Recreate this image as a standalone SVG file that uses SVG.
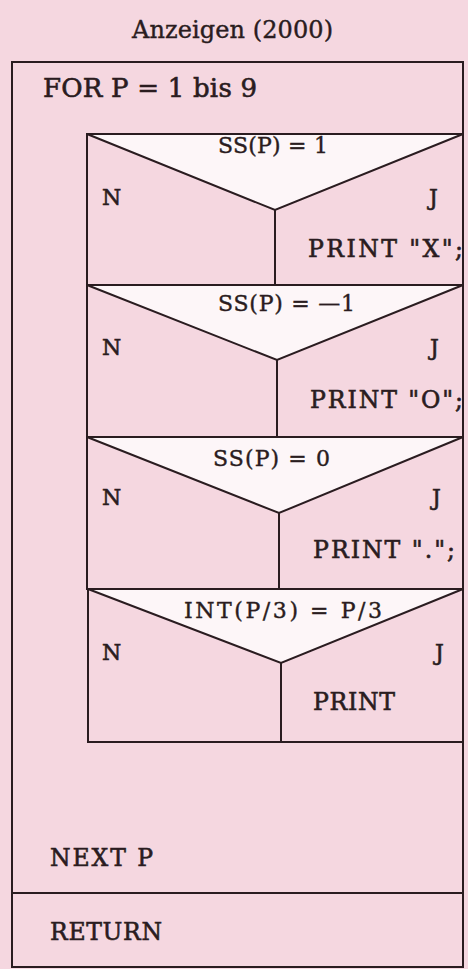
<svg xmlns="http://www.w3.org/2000/svg" width="468" height="969" viewBox="0 0 468 969">
<style>
.bg{fill:#f5d7e0}
.box{fill:none;stroke:#2a1c20;stroke-width:2}
.tri{fill:#fdf6f8;stroke:#2a1c20;stroke-width:2;stroke-linejoin:miter}
.ln{stroke:#2a1c20;stroke-width:2;fill:none}
text{font-family:"DejaVu Serif","Liberation Serif",serif;fill:#2a1c20;stroke:#2a1c20;stroke-width:0.6}
.t{font-size:24px;stroke-width:0.4}
.for{font-size:26px}
.cond{font-size:22px;stroke-width:0.4}
.nj{font-size:22px}
.pr{font-size:23.6px}
.end{font-size:23.5px}
</style>
<rect class="bg" x="0" y="0" width="468" height="969"/>
<g id="title"><text class="t" x="132" y="38" textLength="201">Anzeigen (2000)</text></g>
<g id="loop">
<rect class="box" x="12" y="62" width="451" height="905"/>
<text class="for" x="43" y="97" textLength="214">FOR P = 1 bis 9</text>
</g>
<g id="if1">
<rect class="box" x="87" y="134" width="376" height="151"/>
<polygon class="tri" points="87,134 463,134 275,210"/>
<line class="ln" x1="275" y1="210" x2="275" y2="285"/>
<text class="cond" x="218" y="153" textLength="110">SS(P) = 1</text>
<text class="nj" x="102" y="205">N</text>
<text class="nj" x="429" y="205">J</text>
<text class="pr" x="308" y="257" textLength="155">PRINT "X";</text>
</g>
<g id="if2">
<rect class="box" x="87" y="285" width="376" height="152"/>
<polygon class="tri" points="87,285 463,285 277,360"/>
<line class="ln" x1="277" y1="360" x2="277" y2="437"/>
<text class="cond" x="218" y="311" textLength="137">SS(P) = —1</text>
<text class="nj" x="102" y="355">N</text>
<text class="nj" x="430" y="355">J</text>
<text class="pr" x="310" y="408" textLength="153">PRINT "O";</text>
</g>
<g id="if3">
<rect class="box" x="87" y="437" width="376" height="152"/>
<polygon class="tri" points="87,437 463,437 279,513"/>
<line class="ln" x1="279" y1="513" x2="279" y2="589"/>
<text class="cond" x="213" y="466" textLength="117">SS(P) = 0</text>
<text class="nj" x="102" y="505">N</text>
<text class="nj" x="432" y="505">J</text>
<text class="pr" x="313" y="558" textLength="142">PRINT ".";</text>
</g>
<g id="if4">
<rect class="box" x="88" y="589" width="375" height="153"/>
<polygon class="tri" points="88,589 463,589 281,663"/>
<line class="ln" x1="281" y1="663" x2="281" y2="742"/>
<text class="cond" x="184" y="618" textLength="198">INT(P/3) = P/3</text>
<text class="nj" x="102" y="660">N</text>
<text class="nj" x="435" y="660">J</text>
<text class="pr" x="313" y="710" textLength="82">PRINT</text>
</g>
<g id="next">
<text class="end" x="50" y="866" textLength="103">NEXT P</text>
</g>
<g id="connectors">
<line class="ln" x1="12" y1="893" x2="463" y2="893"/>
</g>
<g id="return">
<text class="end" x="50" y="940" textLength="112">RETURN</text>
</g>
</svg>
